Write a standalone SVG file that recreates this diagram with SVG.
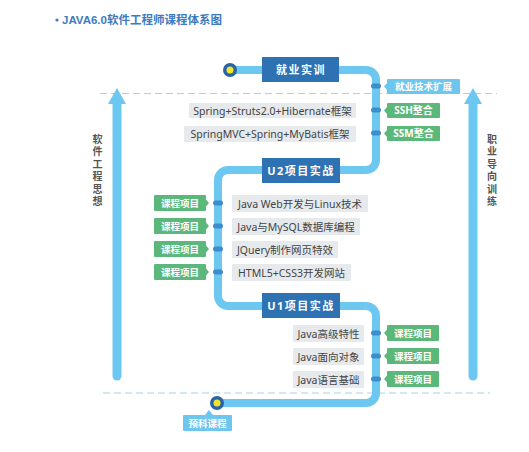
<svg xmlns="http://www.w3.org/2000/svg" width="529" height="452" viewBox="0 0 529 452">
<style>
text{font-family:"Noto Sans","Noto Sans CJK SC",sans-serif}
.track{fill:none;stroke:#6cc8f0;stroke-width:8;stroke-linecap:round;stroke-linejoin:round}
.dash{stroke:#a8d4e2;stroke-width:1.2;stroke-dasharray:7 4}
.stage rect{fill:#2f72b4}
.stage text{fill:#fff;font-size:11px;font-weight:bold;text-anchor:middle;letter-spacing:1.5px}
.green{fill:#5cb87a}
.blue{fill:#6dc6ee}
.tag{fill:#fff;font-size:9.5px;font-weight:bold;text-anchor:middle}
.gray{fill:#e6eaed}
.item{fill:#444;font-size:10.5px;text-anchor:middle}
.pill{fill:#3d8ccc}
.side{fill:#555;font-size:10px;font-weight:bold;text-anchor:middle}
.arrow{fill:#6cc8f0}
.ring{fill:#2a64a8}
.core{fill:#f3e52a}
</style>
<rect width="529" height="452" fill="#fff"/>
<g id="title">
<circle cx="57" cy="20" r="1.6" fill="#3c7bbf"/>
<text x="62" y="24" style="font-family:'Liberation Sans','Noto Sans CJK SC',sans-serif;font-size:11.5px;font-weight:bold;fill:#3c7bbf">JAVA6.0软件工程师课程体系图</text>
</g>
<g id="guides">
<line class="dash" x1="100" y1="93.5" x2="497" y2="93.5"/>
<line class="dash" x1="103" y1="393" x2="490" y2="393"/>
</g>
<g id="left-arrow">
<line x1="117" y1="100" x2="117" y2="376" stroke="#6cc8f0" stroke-width="9" stroke-linecap="round"/>
<polygon class="arrow" points="108,104 117,88 126,104"/>
<text class="side" x="97.5" y="142.5">软</text>
<text class="side" x="97.5" y="155">件</text>
<text class="side" x="97.5" y="167.5">工</text>
<text class="side" x="97.5" y="180">程</text>
<text class="side" x="97.5" y="192.5">思</text>
<text class="side" x="97.5" y="205">想</text>
</g>
<g id="right-arrow">
<line x1="473" y1="100" x2="473" y2="376" stroke="#6cc8f0" stroke-width="9" stroke-linecap="round"/>
<polygon class="arrow" points="464,104 473,88 482,104"/>
<text class="side" x="492" y="142.5">职</text>
<text class="side" x="492" y="155">业</text>
<text class="side" x="492" y="167.5">导</text>
<text class="side" x="492" y="180">向</text>
<text class="side" x="492" y="192.5">训</text>
<text class="side" x="492" y="205">练</text>
</g>
<g id="connectors">
<path class="track" d="M230,70 H366 A10,10 0 0 1 376,80 V160 A10,10 0 0 1 366,170 H228 A10,10 0 0 0 218,180 V296 A10,10 0 0 0 228,306 H366 A10,10 0 0 1 376,316 V393 A10,10 0 0 1 366,403 H217"/>
<rect class="pill" x="371" y="83.5" width="10" height="5" rx="2.5"/>
<rect class="pill" x="371" y="107.5" width="10" height="5" rx="2.5"/>
<rect class="pill" x="371" y="130.5" width="10" height="5" rx="2.5"/>
<rect class="pill" x="371" y="330.5" width="10" height="5" rx="2.5"/>
<rect class="pill" x="371" y="353.5" width="10" height="5" rx="2.5"/>
<rect class="pill" x="371" y="376.5" width="10" height="5" rx="2.5"/>
<rect class="pill" x="213" y="200.5" width="10" height="5" rx="2.5"/>
<rect class="pill" x="213" y="223.5" width="10" height="5" rx="2.5"/>
<rect class="pill" x="213" y="246.5" width="10" height="5" rx="2.5"/>
<rect class="pill" x="213" y="269.5" width="10" height="5" rx="2.5"/>
</g>
<g id="start-dot">
<circle class="ring" cx="230" cy="70" r="7"/>
<circle class="core" cx="230" cy="70" r="3.5"/>
</g>
<g id="end-dot">
<circle class="ring" cx="217" cy="403" r="7"/>
<circle class="core" cx="217" cy="403" r="3.5"/>
</g>
<g id="stage-jiuye" class="stage"><rect x="262" y="57" width="77" height="25"/><text x="301" y="73.5">就业实训</text></g>
<g id="stage-u2" class="stage"><rect x="262" y="158" width="78" height="25"/><text x="301" y="174.5">U2项目实战</text></g>
<g id="stage-u1" class="stage"><rect x="262" y="293" width="78" height="25"/><text x="301" y="309.5">U1项目实战</text></g>
<g id="tag-jiuye-ext"><rect class="blue" x="387" y="79" width="73" height="15" rx="1"/><polygon class="blue" points="387,83 384,86.5 387,90"/><text class="tag" x="423.5" y="90">就业技术扩展</text></g>
<g id="tag-ssh"><rect class="green" x="387" y="103" width="53" height="15" rx="1"/><polygon class="green" points="387,107 384,110.5 387,114"/><text class="tag" x="413.5" y="114" style="font-size:10px">SSH整合</text></g>
<g id="tag-ssm"><rect class="green" x="387" y="126" width="53" height="15" rx="1"/><polygon class="green" points="387,130 384,133.5 387,137"/><text class="tag" x="413.5" y="137" style="font-size:10px">SSM整合</text></g>
<g id="item-ssh"><rect class="gray" x="189" y="103" width="167" height="15" rx="1"/><text class="item" x="272.5" y="114.5">Spring+Struts2.0+Hibernate框架</text></g>
<g id="item-ssm"><rect class="gray" x="184" y="126" width="172" height="16" rx="1"/><text class="item" x="270" y="138">SpringMVC+Spring+MyBatis框架</text></g>
<g id="item-javaweb"><rect class="gray" x="232" y="195" width="136" height="17" rx="1"/><text class="item" x="300" y="207.5">Java Web开发与Linux技术</text></g>
<g id="item-mysql"><rect class="gray" x="232" y="218" width="128" height="17" rx="1"/><text class="item" x="296" y="230.5">Java与MySQL数据库编程</text></g>
<g id="item-jquery"><rect class="gray" x="232" y="241" width="106" height="17" rx="1"/><text class="item" x="285" y="253.5">JQuery制作网页特效</text></g>
<g id="item-html5"><rect class="gray" x="232" y="264" width="119" height="17" rx="1"/><text class="item" x="291.5" y="276.5">HTML5+CSS3开发网站</text></g>
<g id="tag-u2-1"><rect class="green" x="154" y="195" width="52" height="16" rx="1"/><polygon class="green" points="206,199.5 209,203 206,206.5"/><text class="tag" x="180" y="206.5">课程项目</text></g>
<g id="tag-u2-2"><rect class="green" x="154" y="218" width="52" height="16" rx="1"/><polygon class="green" points="206,222.5 209,226 206,229.5"/><text class="tag" x="180" y="229.5">课程项目</text></g>
<g id="tag-u2-3"><rect class="green" x="154" y="241" width="52" height="16" rx="1"/><polygon class="green" points="206,245.5 209,249 206,252.5"/><text class="tag" x="180" y="252.5">课程项目</text></g>
<g id="tag-u2-4"><rect class="green" x="154" y="264" width="52" height="16" rx="1"/><polygon class="green" points="206,268.5 209,272 206,275.5"/><text class="tag" x="180" y="275.5">课程项目</text></g>
<g id="item-advanced"><rect class="gray" x="293" y="325" width="71" height="17" rx="1"/><text class="item" x="328.5" y="337.5">Java高级特性</text></g>
<g id="item-oop"><rect class="gray" x="293" y="348" width="71" height="17" rx="1"/><text class="item" x="328.5" y="360.5">Java面向对象</text></g>
<g id="item-basic"><rect class="gray" x="293" y="371" width="71" height="17" rx="1"/><text class="item" x="328.5" y="383.5">Java语言基础</text></g>
<g id="tag-u1-1"><rect class="green" x="387" y="325" width="52" height="16" rx="1"/><polygon class="green" points="387,329.5 384,333 387,336.5"/><text class="tag" x="413" y="336.5">课程项目</text></g>
<g id="tag-u1-2"><rect class="green" x="387" y="348" width="52" height="16" rx="1"/><polygon class="green" points="387,352.5 384,356 387,359.5"/><text class="tag" x="413" y="359.5">课程项目</text></g>
<g id="tag-u1-3"><rect class="green" x="387" y="371" width="52" height="16" rx="1"/><polygon class="green" points="387,375.5 384,379 387,382.5"/><text class="tag" x="413" y="382.5">课程项目</text></g>
<g id="tag-yuke"><rect class="blue" x="183" y="415" width="49" height="16" rx="1"/><polygon class="blue" points="205,415 209,410 213,415"/><text class="tag" x="207.5" y="426.5">预科课程</text></g>
</svg>
